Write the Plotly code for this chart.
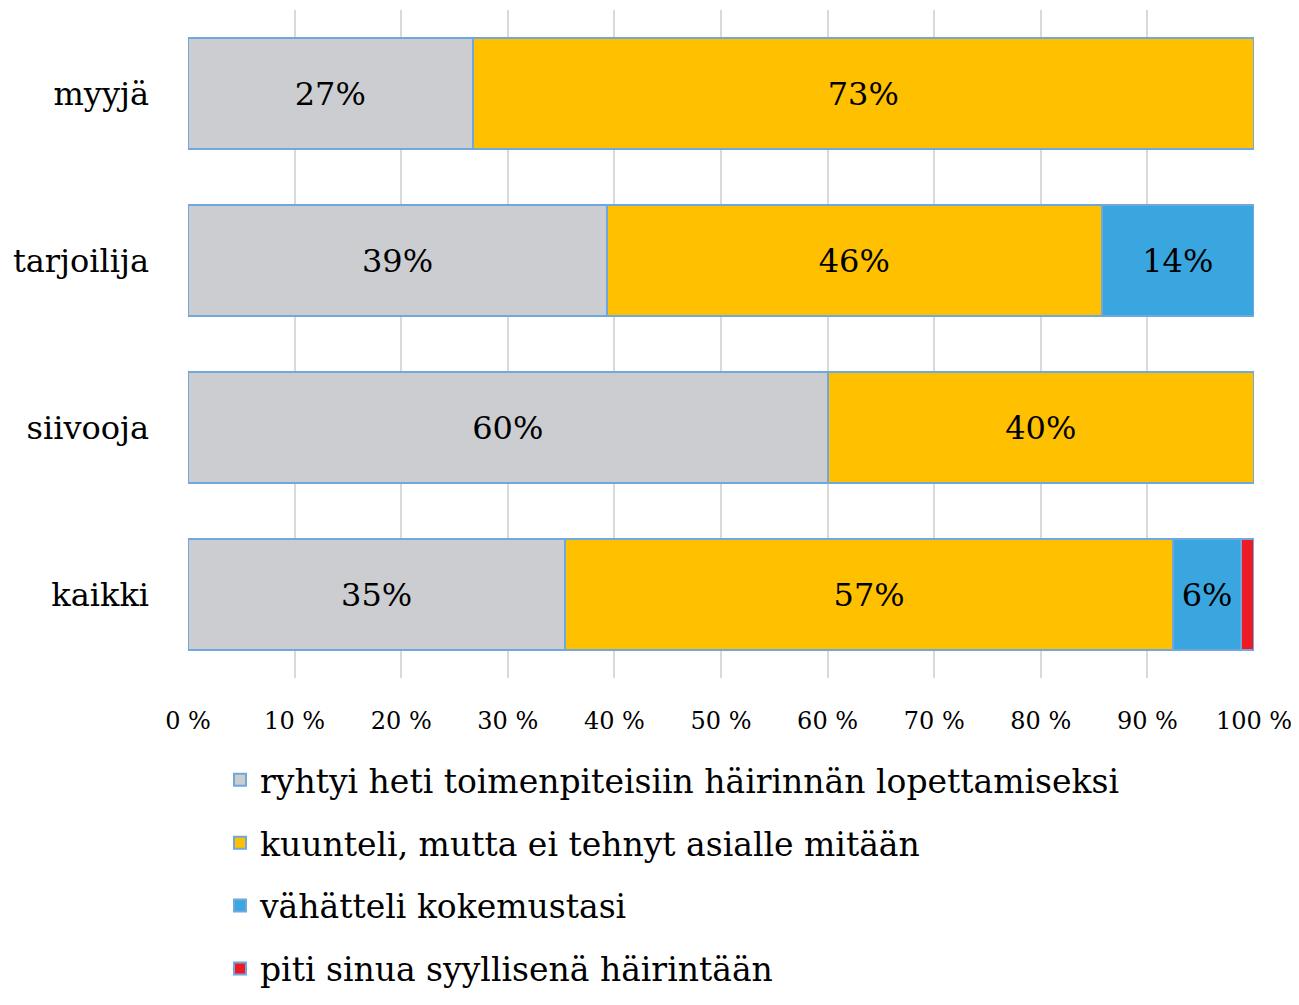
import plotly.graph_objects as go

categories = ["myyjä", "tarjoilija", "siivooja", "kaikki"]
series_names = [
    "ryhtyi heti toimenpiteisiin häirinnän lopettamiseksi",
    "kuunteli, mutta ei tehnyt asialle mitään",
    "vähätteli kokemustasi",
    "piti sinua syyllisenä häirintään",
]
ryhtyi = [26.7, 39.3, 60.0, 35.4]
kuunteli = [73.3, 46.4, 40.0, 57.0]
vahatteli = [0, 14.3, 0, 6.4]
piti = [0, 0, 0, 1.2]
labels_ryhtyi = ["27%", "39%", "60%", "35%"]
labels_kuunteli = ["73%", "46%", "40%", "57%"]
labels_vahatteli = ["", "14%", "", "6%"]
labels_piti = ["", "", "", ""]
tick_vals = [0, 10, 20, 30, 40, 50, 60, 70, 80, 90, 100]
tick_text = ["0 %", "10 %", "20 %", "30 %", "40 %", "50 %", "60 %", "70 %", "80 %", "90 %", "100 %"]

colors = ["#CBCDD1", "#FFC000", "#3AA6E0", "#ED1C24"]
FONT = "DejaVu Serif"

fig = go.Figure()
for i, (name, vals, labs) in enumerate(zip(series_names,
                                           [ryhtyi, kuunteli, vahatteli, piti],
                                           [labels_ryhtyi, labels_kuunteli, labels_vahatteli, labels_piti])):
    fig.add_trace(go.Bar(
        y=categories, x=vals, name=name, orientation="h",
        text=labs, textposition="inside", insidetextanchor="middle",
        constraintext="none",
        textfont=dict(family=FONT, size=32, color="black"),
        marker=dict(color=colors[i], line=dict(color="#6FA8DC", width=2)),
        legendgroup=str(i),
        hoverinfo="skip",
    ))

fig.update_layout(
    width=1283, height=989,
    barmode="stack", bargap=0.335,
    plot_bgcolor="white", paper_bgcolor="white",
    margin=dict(l=180, r=37, t=2, b=319, autoexpand=False),
    font=dict(family=FONT, color="black"),
    legend=dict(orientation="v", x=0.03, y=-0.1105, xanchor="left", yanchor="top",
                font=dict(family=FONT, size=33), tracegroupgap=17,
                traceorder="grouped"),
    showlegend=True,
)
fig.update_xaxes(range=[0, 100], tickvals=tick_vals, ticktext=tick_text,
                 showgrid=True, gridcolor="#D9D9D9", gridwidth=2,
                 zeroline=False, showline=False, ticks="",
                 tickfont=dict(family=FONT, size=24), ticklabelstandoff=26,
                 ticklabeloverflow="allow")
fig.update_yaxes(autorange="reversed", showgrid=False, showline=False, ticks="",
                 tickfont=dict(family=FONT, size=32), ticklabelstandoff=38)

fig.write_html("out.html")
